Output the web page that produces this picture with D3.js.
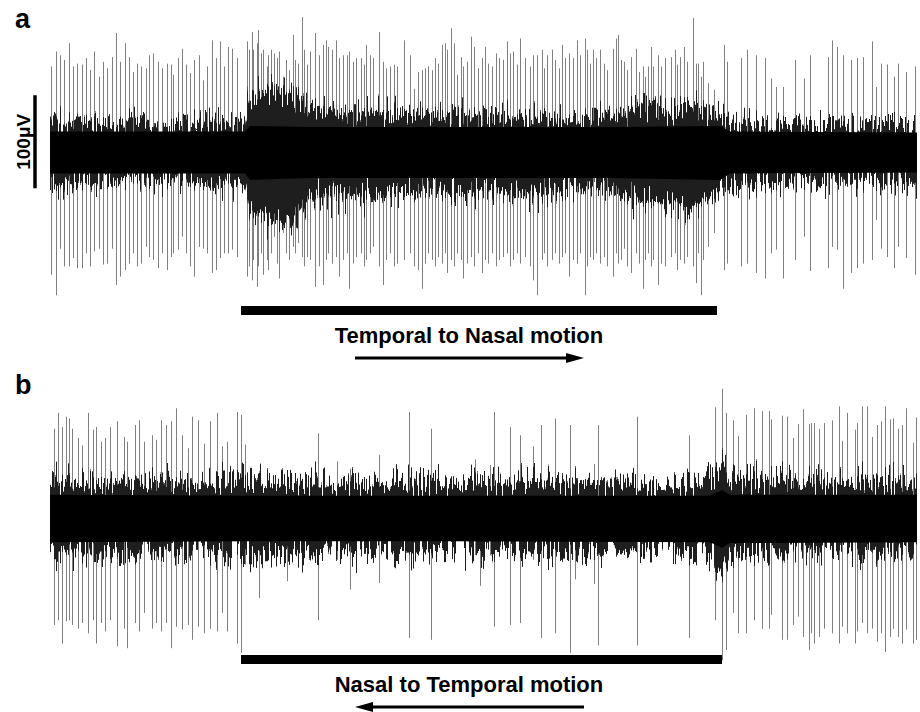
<!DOCTYPE html>
<html>
<head>
<meta charset="utf-8">
<script src="https://cdn.jsdelivr.net/npm/d3@7"></script>
<style>
  body { margin: 0; background: #fff; }
  svg { display: block; font-family: "Liberation Sans", Arial, sans-serif; }
</style>
</head>
<body>
<div class="chart"></div>
<script>
// extracellular recording, two stimulus directions
// time in s, amplitude in microvolts

// panel a : temporal -> nasal
// outer extent of the noise band
let envTimeA = [0,0.2,0.4,0.6,0.8,1.0,1.2,1.4,1.6,1.8,1.95,2.0,2.2,2.4,2.6,2.8,3.0,3.2,3.4,3.6,3.8,4.0,4.2,4.4,4.6,4.8,5.0,5.2,5.4,5.6,5.8,6.0,6.2,6.4,6.6,6.8,7.0,7.2,7.4,7.6,7.8,8.0,8.2,8.4,8.6,8.67];
let envUpA   = [35,35,32,31,32,30,29,31,35,31,32,58,68,64,48,44,42,41,44,41,38,42,38,41,38,41,38,35,38,38,48,53,43,53,41,33,31,31,30,29,29,28,29,29,29,29];
let envDownA = [39,35,33,32,31,31,29,31,35,34,35,64,74,78,49,49,44,49,44,44,39,44,44,41,44,46,44,39,39,41,49,54,54,64,49,37,36,34,33,32,31,31,31,32,31,31];
// solid core of the band
let coreTimeA = [0,1.95,2.0,2.6,5.6,6.7,6.8,8.67];
let coreUpA   = [22,22,28,27,27,28,22,21];
let coreDownA = [23,23,30,28,28,30,23,22];

let spikeTimeA = [0.01,0.06,0.10,0.14,0.19,0.23,0.27,0.32,0.36,0.40,0.44,0.49,0.53,0.57,0.62,0.66,0.70,0.75,0.79,0.83,0.87,0.91,0.96,0.99,1.03,1.08,1.12,1.17,1.21,1.23,1.28,1.32,1.36,1.40,1.44,1.49,1.53,1.57,1.62,1.66,1.70,1.74,1.78,1.82,1.87,
  1.97,1.99,2.02,2.03,2.07,2.08,2.11,2.13,2.17,2.18,2.21,2.24,2.27,2.29,2.33,2.36,2.39,2.43,2.45,2.48,2.52,2.54,2.57,2.60,2.65,2.69,2.73,2.76,2.78,2.82,2.86,2.89,2.93,2.97,2.99,3.03,3.06,3.11,3.14,3.16,3.20,3.23,3.29,3.33,3.36,3.40,3.44,3.47,3.54,3.60,3.64,3.68,3.72,3.75,3.78,3.82,3.85,3.88,3.92,3.95,3.97,4.01,4.04,4.07,4.11,4.13,4.17,4.21,4.24,4.28,4.32,4.35,4.38,4.42,4.46,4.49,4.53,4.57,4.60,4.63,4.67,4.70,4.75,4.80,4.83,4.87,4.92,4.94,4.97,5.02,5.05,5.09,5.12,5.15,5.19,5.23,5.27,5.30,5.35,5.37,5.40,5.43,5.46,5.50,5.54,5.57,5.63,5.66,5.68,5.71,5.74,5.77,5.81,5.86,5.89,5.93,5.95,5.98,6.01,6.03,6.08,6.11,6.15,6.21,6.25,6.27,6.30,6.34,6.37,6.43,6.46,6.48,6.51,6.53,6.58,6.64,
  6.74,6.77,6.91,6.97,7.06,7.15,7.21,7.26,7.33,7.45,7.54,7.60,7.78,7.82,7.87,7.93,8.01,8.07,8.13,8.22,8.26,8.31,8.37,8.44,8.48,8.56,8.65];
let spikeUpA = [92,108,104,99,117,92,95,94,101,88,108,81,97,90,102,128,97,117,102,86,95,92,90,104,106,97,90,95,94,83,101,111,94,85,99,104,77,92,120,101,119,92,113,111,101,
  119,110,129,110,117,131,106,110,92,104,110,106,101,108,81,99,88,126,99,95,145,110,94,108,128,104,115,120,113,110,120,101,104,104,108,97,101,101,94,115,104,101,129,97,90,92,94,92,120,104,68,86,88,90,92,88,101,95,115,117,110,133,117,83,102,92,97,124,113,90,101,113,95,92,106,101,99,119,106,108,94,122,101,92,104,104,110,90,104,110,99,90,115,101,106,101,120,104,122,110,95,110,101,110,95,88,111,122,126,99,97,88,102,111,86,92,81,92,113,92,104,92,101,102,110,94,102,113,97,144,95,95,81,97,74,67,
  115,97,101,110,104,101,79,70,70,99,79,104,102,120,113,104,99,101,102,119,70,95,94,81,95,86,92];
let spikeDownA = [132,154,104,123,123,114,125,125,109,123,107,104,121,120,104,143,134,127,120,109,123,120,102,113,116,125,109,127,113,109,105,91,109,123,134,102,104,109,130,127,114,109,109,105,113,
  134,123,138,116,145,123,109,132,116,127,109,91,120,136,87,109,116,102,109,98,113,123,113,116,145,123,143,116,109,120,113,134,116,109,147,120,113,109,123,116,109,102,123,143,116,109,123,120,116,109,123,127,147,120,109,116,123,113,120,109,130,116,123,109,116,136,120,113,123,109,130,116,120,109,123,116,113,109,123,116,109,120,113,123,138,154,116,109,123,116,109,120,113,109,134,116,120,109,154,123,113,116,109,120,113,123,134,109,120,116,104,123,130,109,120,147,116,109,123,116,143,120,123,113,109,127,116,120,113,123,141,109,154,116,102,87,
  127,120,123,120,130,136,109,105,136,116,91,128,125,102,105,147,130,125,120,116,73,104,113,125,102,114,132];

// panel b : nasal -> temporal
let envTimeB = [0,0.2,0.4,0.6,0.8,1.0,1.2,1.4,1.6,1.8,2.0,2.2,2.4,2.6,2.8,3.0,3.2,3.4,3.6,3.8,4.0,4.2,4.4,4.6,4.8,5.0,5.2,5.4,5.6,5.8,6.0,6.2,6.4,6.6,6.72,6.8,7.0,7.2,7.4,7.6,7.8,8.0,8.2,8.4,8.6,8.67];
let envUpB   = [40,37,36,37,39,37,39,37,40,42,39,37,39,37,37,35,37,36,37,38,37,39,40,38,39,38,37,38,37,37,35,36,37,41,54,43,41,39,41,39,38,39,38,39,37,37];
let envDownB = [39,35,35,33,38,35,38,35,36,37,38,38,42,36,35,36,38,36,35,35,33,36,35,33,35,36,33,35,33,36,35,33,35,38,57,39,37,35,35,35,33,35,33,33,35,35];
let coreTimeB = [0,2.0,4.0,6.6,6.72,6.8,8.67];
let coreUpB   = [25,24,24,24,30,25,25];
let coreDownB = [26,25,25,26,32,27,26];

let spikeTimeB = [0.04,0.08,0.12,0.16,0.19,0.22,0.28,0.32,0.38,0.43,0.46,0.51,0.55,0.60,0.67,0.74,0.77,0.85,0.89,0.94,1.02,1.06,1.11,1.16,1.21,1.26,1.32,1.38,1.42,1.48,1.54,1.60,1.67,1.72,1.77,1.87,1.91,1.95,
  2.09,2.37,2.68,2.87,3.00,3.29,3.59,3.81,4.25,4.30,4.40,4.44,4.60,4.70,4.83,4.91,5.05,5.20,5.25,5.44,5.48,5.87,6.39,6.65,
  6.72,6.76,6.83,6.88,6.96,7.04,7.12,7.19,7.21,7.32,7.37,7.43,7.48,7.53,7.59,7.61,7.64,7.69,7.74,7.82,7.89,7.92,7.97,8.05,8.07,8.12,8.17,8.22,8.27,8.31,8.35,8.40,8.43,8.48,8.52,8.56,8.63,8.66];
let spikeUpB = [96,113,98,109,107,96,86,78,113,95,98,82,86,98,104,87,82,100,105,82,89,84,105,100,104,118,89,75,109,105,80,104,113,77,82,114,111,79,
  38,35,91,61,53,68,114,96,63,40,57,114,98,89,77,100,107,100,40,58,100,109,89,119,
  139,113,105,88,111,118,115,115,106,110,109,86,101,117,101,102,102,96,102,105,120,83,113,95,102,120,120,87,100,104,120,106,107,96,100,118,81,108];
let spikeDownB = [115,110,135,111,110,115,119,113,124,110,135,113,122,110,138,119,140,113,122,102,119,113,122,113,140,117,120,115,131,117,124,119,122,102,122,135,145,50,
  86,68,110,45,77,70,129,131,40,73,40,117,115,113,45,129,124,145,66,71,137,137,129,110,
  153,142,102,124,124,110,119,119,104,131,131,115,106,128,142,124,135,128,119,124,135,117,124,135,122,113,124,119,133,124,144,128,119,128,135,120,135,131];

// stimulus on/off (s)
let stimA = [1.91, 6.67];
let stimB = [1.91, 6.72];
let stimLabels = ["Temporal to Nasal motion", "Nasal to Temporal motion"];
let panelLabels = ["a", "b"];
let scaleBarUV = 100;

let svgWidth = 920;
let svgHeight = 712;
let pxPerUV = 0.93;

let svg = d3.select(".chart")
  .append("svg")
  .attr("width", svgWidth)
  .attr("height", svgHeight);

// ragged edge for the noise band (vertical jitter only)
let defs = svg.append("defs");
let filt = defs.append("filter")
  .attr("id", "ragged")
  .attr("x", "-1%").attr("y", "-80%")
  .attr("width", "102%").attr("height", "260%")
  .attr("color-interpolation-filters", "sRGB");
filt.append("feTurbulence")
  .attr("type", "fractalNoise")
  .attr("baseFrequency", "0.55 0.01")
  .attr("numOctaves", 2)
  .attr("seed", 7)
  .attr("result", "noise");
filt.append("feColorMatrix")
  .attr("in", "noise")
  .attr("type", "matrix")
  .attr("values", "0 0 0 0 0.5  0 1.6 0 0 -0.3  0 0 0 0 0  0 0 0 0 1")
  .attr("result", "shift");
filt.append("feDisplacementMap")
  .attr("in", "SourceGraphic")
  .attr("in2", "shift")
  .attr("scale", 44)
  .attr("xChannelSelector", "R")
  .attr("yChannelSelector", "G");

let xScale = d3.scaleLinear()
  .domain([0, 8.67])
  .range([50, 917]);

function buildPanel(p) {
  let yScale = d3.scaleLinear()
    .domain([-160, 160])
    .range([p.center + 160 * pxPerUV, p.center - 160 * pxPerUV]);

  let g = svg.append("g");

  let area = d3.area()
    .x(d => xScale(d.t))
    .y0(d => yScale(-d.down))
    .y1(d => yScale(d.up));

  // spikes
  let spikes = p.spikeTime.map((t, i) => ({t: t, up: p.spikeUp[i], down: p.spikeDown[i]}));
  g.selectAll("line.spike")
    .data(spikes)
    .enter()
    .append("line")
    .attr("class", "spike")
    .attr("x1", d => Math.round(xScale(d.t)) + 0.5)
    .attr("x2", d => Math.round(xScale(d.t)) + 0.5)
    .attr("y1", d => yScale(d.up))
    .attr("y2", d => yScale(-d.down))
    .attr("stroke", "#808080")
    .attr("stroke-width", 1);

  // noise band: ragged outer part, then solid core
  let env = p.envTime.map((t, i) => ({t: t, up: p.envUp[i], down: p.envDown[i]}));
  g.append("path")
    .datum(env)
    .attr("d", area)
    .attr("fill", "#1e1e1e")
    .attr("filter", "url(#ragged)");

  let core = p.coreTime.map((t, i) => ({t: t, up: p.coreUp[i], down: p.coreDown[i]}));
  g.append("path")
    .datum(core)
    .attr("d", area)
    .attr("fill", "#000");

  // stimulus bar
  g.append("rect")
    .attr("x", xScale(p.stim[0]))
    .attr("y", p.barY)
    .attr("width", xScale(p.stim[1]) - xScale(p.stim[0]))
    .attr("height", 9)
    .attr("fill", "#000");

  g.append("text")
    .attr("x", 469)
    .attr("y", p.barY + 37)
    .attr("text-anchor", "middle")
    .attr("font-size", 22)
    .attr("font-weight", "bold")
    .text(p.stimLabel);

  // direction arrow
  let ay = p.barY + 52;
  let x0 = 355, x1 = 584;
  if (p.dir > 0) {
    g.append("line").attr("x1", x0).attr("x2", x1 - 14).attr("y1", ay).attr("y2", ay)
      .attr("stroke", "#000").attr("stroke-width", 3);
    g.append("path").attr("d", `M${x1},${ay} L${x1 - 18},${ay - 5} L${x1 - 18},${ay + 5} Z`).attr("fill", "#000");
  } else {
    g.append("line").attr("x1", x0 + 14).attr("x2", x1).attr("y1", ay).attr("y2", ay)
      .attr("stroke", "#000").attr("stroke-width", 3);
    g.append("path").attr("d", `M${x0},${ay} L${x0 + 18},${ay - 5} L${x0 + 18},${ay + 5} Z`).attr("fill", "#000");
  }

  // panel letter
  g.append("text")
    .attr("x", 15)
    .attr("y", p.center - 124)
    .attr("font-size", 27)
    .attr("font-weight", "bold")
    .text(p.label);

  return yScale;
}

let yA = buildPanel({
  label: panelLabels[0], center: 152, barY: 306, dir: 1, stim: stimA, stimLabel: stimLabels[0],
  envTime: envTimeA, envUp: envUpA, envDown: envDownA,
  coreTime: coreTimeA, coreUp: coreUpA, coreDown: coreDownA,
  spikeTime: spikeTimeA, spikeUp: spikeUpA, spikeDown: spikeDownA
});

buildPanel({
  label: panelLabels[1], center: 518, barY: 655, dir: -1, stim: stimB, stimLabel: stimLabels[1],
  envTime: envTimeB, envUp: envUpB, envDown: envDownB,
  coreTime: coreTimeB, coreUp: coreUpB, coreDown: coreDownB,
  spikeTime: spikeTimeB, spikeUp: spikeUpB, spikeDown: spikeDownB
});

// scale bar
svg.append("line")
  .attr("x1", 35).attr("x2", 35)
  .attr("y1", yA(-39)).attr("y2", yA(-39 + scaleBarUV))
  .attr("stroke", "#000")
  .attr("stroke-width", 3.5);

svg.append("text")
  .attr("transform", `translate(30, ${yA(11)}) rotate(-90)`)
  .attr("text-anchor", "middle")
  .attr("font-size", 19)
  .attr("font-weight", "bold")
  .text(scaleBarUV + "\u03bcV");
</script>
</body>
</html>
